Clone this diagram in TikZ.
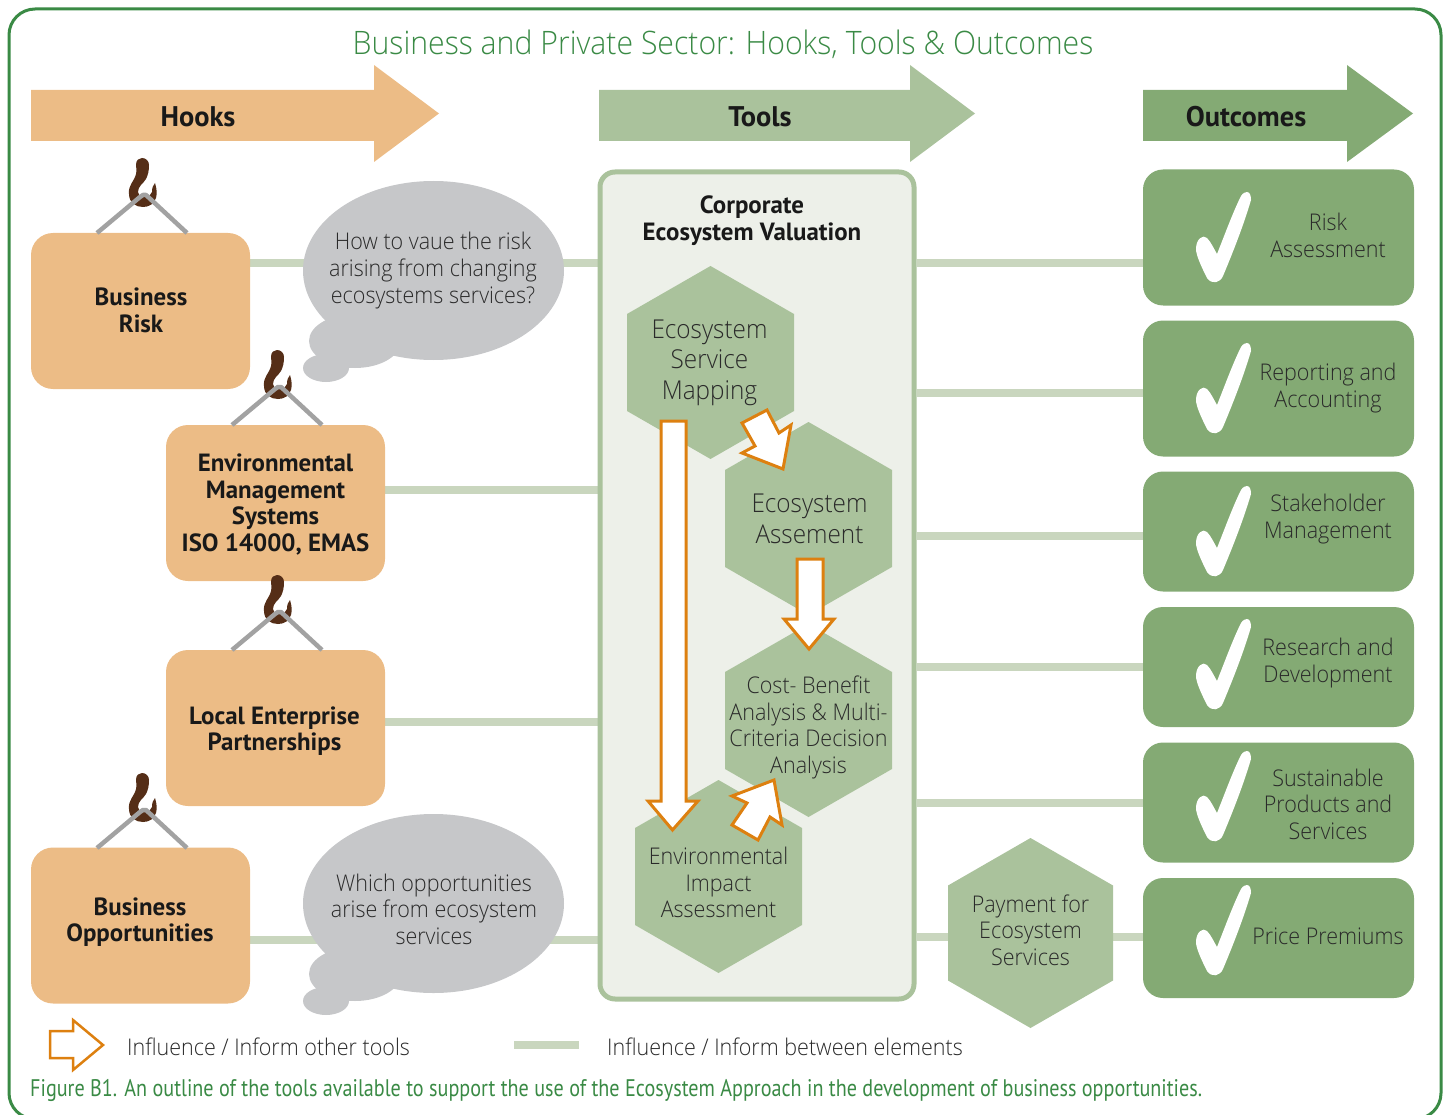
\documentclass[tikz,border=0pt]{standalone}
\usepackage{fontspec}
\setmainfont[FakeStretch=0.935]{Open Sans Light}
\newfontfamily\boldf{PT Sans Bold}
\newfontfamily\capf{PT Sans}
\usetikzlibrary{backgrounds}
\definecolor{frameg}{HTML}{3A8A45}
\definecolor{hookc}{HTML}{ECBC86}
\definecolor{toolc}{HTML}{AAC29C}
\definecolor{outc}{HTML}{84AA74}
\definecolor{linkc}{HTML}{C9D6BE}
\definecolor{cloudc}{HTML}{C6C7C9}
\definecolor{panelc}{HTML}{EDF0E9}
\definecolor{orangec}{HTML}{DD8010}
\definecolor{brownc}{HTML}{552E17}
\definecolor{wirec}{HTML}{A2A2A2}
\definecolor{textc}{HTML}{2A2A2A}
\tikzset{
  hookbox/.style={fill=hookc,rounded corners=22pt,minimum width=219pt,minimum height=156pt,inner sep=0pt},
  outbox/.style={fill=outc,rounded corners=20pt,minimum width=271pt,inner sep=0pt},
  link/.style={draw=linkc,line width=8pt},
  flow/.style={draw=orangec,fill=white,line width=3pt,miter limit=10},
  cloud/.style={fill=cloudc},
  hextxt/.style={text=textc,align=center,font=\fontsize{26}{30.5}\selectfont,inner sep=0pt},
  smalltxt/.style={text=textc,align=center,font=\fontsize{23}{26.6}\selectfont,inner sep=0pt},
  boldtxt/.style={text=black!90,align=center,font=\boldf\fontsize{24.9}{26.5}\selectfont,inner sep=0pt},
  headtxt/.style={text=black!90,font=\boldf\fontsize{28.4}{30}\selectfont,inner sep=0pt},
  hexa/.style={fill=toolc},
  hooktip/.pic={
    \fill[brownc] (-7,-30) .. controls (-7,-35) and (-4,-37) .. (-1,-37)
      .. controls (3,-37) and (6,-34) .. (6,-30)
      .. controls (6,-24) and (5,-20) .. (3,-16)
      .. controls (0,-11) and (-5,-9) .. (-5,-3)
      .. controls (-5,0) and (-3,2) .. (1,2)
      .. controls (6,2) and (8,0) .. (9,-3)
      .. controls (9,-7) and (10,-10) .. (12,-12)
      .. controls (14,-6) and (14,-1) .. (13,3)
      .. controls (11,9) and (6,12) .. (0,12)
      .. controls (-7,12) and (-14,8) .. (-14,-1)
      .. controls (-15,-10) and (-9,-13) .. (-7,-21)
      .. controls (-6,-25) and (-7,-27) .. (-7,-30) -- cycle;
    \draw[wirec,line width=4.5pt,line join=round] (-46,38) -- (-3,2) -- (0,0) -- (3,0) -- (44,38);
  },
  tick/.pic={
    \fill[white] (0,0) .. controls (3,0) and (4,4) .. (4,8)
      .. controls (-4,35) and (-14,60) .. (-24,84)
      .. controls (-27,91) and (-35,93) .. (-40,86)
      .. controls (-46,74) and (-51,63) .. (-51,57)
      .. controls (-51,47) and (-44,42) .. (-40,46)
      .. controls (-36,50) and (-33,57) .. (-30,62)
      .. controls (-22,42) and (-14,20) .. (-6,4)
      .. controls (-4,1) and (-2,0) .. (0,0) -- cycle;
  }
}
\begin{document}
\begin{tikzpicture}[x=1pt,y=-1pt]
\useasboundingbox (0,0) rectangle (1445,1115);
\draw[frameg,line width=3pt,rounded corners=26pt] (9,9) rectangle (1441,1119);

\node[text=frameg,font=\fontsize{32.3}{36}\selectfont,inner sep=0pt] (title) at (723,44) {Business and Private Sector: Hooks, Tools \& Outcomes};

% header arrows
\fill[hookc] (31,90) -- (374,90) -- (374,65) -- (439,113.5) -- (374,162) -- (374,141) -- (31,141) -- cycle;
\node[headtxt] (hooks) at (198,116.5) {Hooks};
\fill[toolc] (599,90) -- (910,90) -- (910,65) -- (975,113.5) -- (910,162) -- (910,141) -- (599,141) -- cycle;
\node[headtxt] (tools) at (760,116.5) {Tools};
\fill[outc] (1143,90) -- (1347,90) -- (1347,65) -- (1413,113.5) -- (1347,162) -- (1347,141) -- (1143,141) -- cycle;
\node[headtxt] (outcomes) at (1246,116.5) {Outcomes};

% panel
\node[draw=toolc,fill=panelc,line width=5pt,rounded corners=15pt,minimum width=314pt,minimum height=827pt,inner sep=0pt] (panel) at (757,585.5) {};
\node[boldtxt] (paneltxt) at (752,220.5) {Corporate\\Ecosystem Valuation};

% hook boxes
\node[hookbox] (br) at (140.5,311) {};
\node[hookbox] (ems) at (275.5,503) {};
\node[hookbox] (lep) at (275.5,728) {};
\node[hookbox] (bo) at (140.5,925.5) {};
\node[boldtxt] (brt) at (141,310.5) {Business\\Risk};
\node[boldtxt] (emst) at (275.5,504.5) {Environmental\\Management\\Systems\\ISO 14000, EMAS};
\node[boldtxt] (lept) at (274.5,731) {Local Enterprise\\Partnerships};
\node[boldtxt] (bot) at (140,922) {Business\\Opportunities};

\pic at (143,195) {hooktip};
\pic at (278,387) {hooktip};
\pic at (278,612) {hooktip};
\pic at (143,810) {hooktip};

% clouds
\fill[cloud] (433.5,270.5) ellipse [x radius=130.5pt,y radius=89.5pt];
\fill[cloud] (355,341) ellipse [x radius=46pt,y radius=27pt];
\fill[cloud] (326,368) ellipse [x radius=23pt,y radius=14pt];
\node[smalltxt] (c1) at (433,270.5) {How to vaue the risk\\arising from changing\\ecosystems services?};
\fill[cloud] (433.5,903.5) ellipse [x radius=130.5pt,y radius=89.5pt];
\fill[cloud] (355,974) ellipse [x radius=46pt,y radius=27pt];
\fill[cloud] (326,1001) ellipse [x radius=23pt,y radius=14pt];
\node[smalltxt] (c2) at (434,909) {Which opportunities\\arise from ecosystem\\services};

% hexagons
\fill[hexa] (710.5,362.5) +(0,-96.5) -- +(83.5,-48.5) -- +(83.5,48.5) -- +(0,96.5) -- +(-83.5,48.5) -- +(-83.5,-48.5) -- cycle;
\node[hextxt] (h1) at (709.5,362.5) {Ecosystem\\Service\\Mapping};
\fill[hexa] (808.5,518.5) +(0,-96.5) -- +(83.5,-48.5) -- +(83.5,48.5) -- +(0,96.5) -- +(-83.5,48.5) -- +(-83.5,-48.5) -- cycle;
\node[hextxt] (h2) at (809.5,519) {Ecosystem\\Assement};
\fill[hexa] (808.5,720.5) +(0,-96.5) -- +(83.5,-48.5) -- +(83.5,48.5) -- +(0,96.5) -- +(-83.5,48.5) -- +(-83.5,-48.5) -- cycle;
\node[smalltxt] (h3) at (808.5,727.5) {Cost- Benefit\\Analysis \& Multi-\\Criteria Decision\\Analysis};
\fill[hexa] (718.5,876.5) +(0,-96.5) -- +(83.5,-48.5) -- +(83.5,48.5) -- +(0,96.5) -- +(-83.5,48.5) -- +(-83.5,-48.5) -- cycle;
\node[smalltxt] (h4) at (718.5,882.5) {Environmental\\Impact\\Assessment};
\fill[hexa] (1030.5,933) +(0,-95) -- +(82.5,-47.5) -- +(82.5,47.5) -- +(0,95) -- +(-82.5,47.5) -- +(-82.5,-47.5) -- cycle;
\node[smalltxt] (h5) at (1030.5,930) {Payment for\\Ecosystem\\Services};

% flow arrows
\draw[flow] (661,421) -- (686,421) -- (686,801) -- (698,801) -- (672.5,830) -- (648,801) -- (661,801) -- cycle;
\draw[flow] (797,559) -- (823,559) -- (823,619) -- (834,619) -- (809,649) -- (784,619) -- (797,619) -- cycle;
\draw[flow] (767,410) -- (779,433) -- (791,425) -- (783,469) -- (742,453) -- (755,446) -- (742,423) -- cycle;
\draw[flow] (774,780) -- (782,825) -- (770,817) -- (758,840) -- (732,825) -- (747,803) -- (732,796) -- cycle;

% outcome boxes
\node[outbox,minimum height=136pt] (o1) at (1278.5,237.5) {};
\node[outbox,minimum height=136pt] (o2) at (1278.5,388.5) {};
\node[outbox,minimum height=120pt] (o3) at (1278.5,531.5) {};
\node[outbox,minimum height=120pt] (o4) at (1278.5,667) {};
\node[outbox,minimum height=120pt] (o5) at (1278.5,802.5) {};
\node[outbox,minimum height=120pt] (o6) at (1278.5,938) {};
\pic at (1247,192) {tick};
\pic at (1247,343) {tick};
\pic at (1247,486) {tick};
\pic at (1247,619) {tick};
\pic at (1247,751) {tick};
\pic at (1247,885) {tick};
\node[smalltxt] (o1t) at (1328,235.5) {Risk\\Assessment};
\node[smalltxt] (o2t) at (1328,388) {Reporting and\\Accounting};
\node[smalltxt] (o3t) at (1328,519) {Stakeholder\\Management};
\node[smalltxt] (o4t) at (1328,663) {Research and\\Development};
\node[smalltxt] (o5t) at (1328,804) {Sustainable\\Products and\\Services};
\node[smalltxt] (o6t) at (1328,936) {Price Premiums};

% legend
\draw[flow,line width=2.5pt] (50,1031) -- (73,1031) -- (73,1020) -- (103,1045) -- (73,1070) -- (73,1058) -- (50,1058) -- cycle;
\node[smalltxt,anchor=west] (leg1) at (127,1047) {Influence / Inform other tools};
\coordinate (lega) at (514,1045);
\coordinate (legb) at (579,1045);
\draw[link] (lega) -- (legb);
\node[smalltxt,anchor=west] (leg2) at (607,1047) {Influence / Inform between elements};
\node[text=frameg,anchor=west,inner sep=0pt,font=\capf\fontsize{24}{26}\selectfont] (cap) at (30,1090) {\scalebox{0.84}[1]{Figure B1. An outline of the tools available to support the use of the Ecosystem Approach in the development of business opportunities.}};

% connectors
\begin{pgfonlayer}{background}
\draw[link] (br.east |- 0,263) -- (panel.west |- 0,263);
\draw[link] (ems.east |- 0,490) -- (panel.west |- 0,490);
\draw[link] (lep.east |- 0,721.5) -- (panel.west |- 0,721.5);
\draw[link] (bo.east |- 0,940) -- (panel.west |- 0,940);
\draw[link] (panel.east |- 0,263) -- (o1.west |- 0,263);
\draw[link] (panel.east |- 0,393) -- (o2.west |- 0,393);
\draw[link] (panel.east |- 0,535.5) -- (o3.west |- 0,535.5);
\draw[link] (panel.east |- 0,666.5) -- (o4.west |- 0,666.5);
\draw[link] (panel.east |- 0,802.5) -- (o5.west |- 0,802.5);
\draw[link] (panel.east |- 0,937) -- (o6.west |- 0,937);
\end{pgfonlayer}
\end{tikzpicture}
\end{document}
